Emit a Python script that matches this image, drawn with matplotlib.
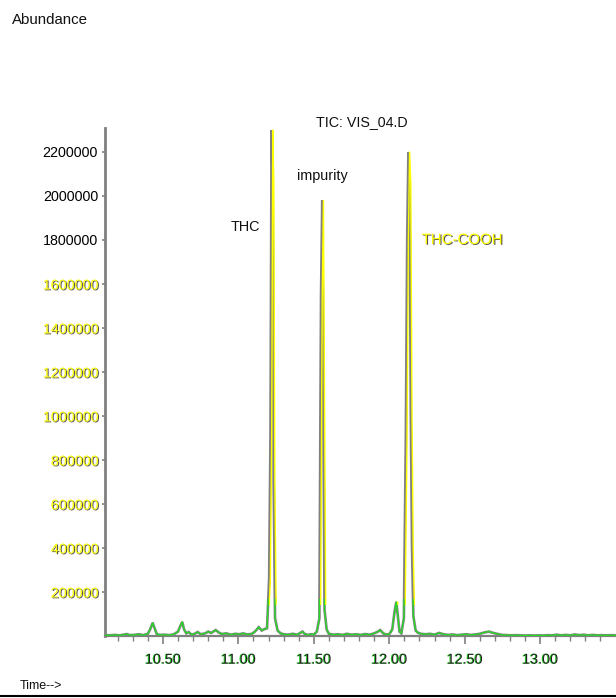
import matplotlib
matplotlib.use("Agg")
import matplotlib.pyplot as plt
import matplotlib.patheffects as pe
import matplotlib.transforms as mtransforms
from matplotlib.patches import Rectangle

plt.rcParams['font.family'] = ['Liberation Sans', 'DejaVu Sans']

# ---- data ----
time_min = [10.12, 10.15, 10.18, 10.21, 10.24, 10.26, 10.28, 10.31, 10.34, 10.37,
            10.40, 10.415, 10.432, 10.445, 10.46, 10.48, 10.51, 10.54, 10.57, 10.60,
            10.615, 10.628, 10.64, 10.655, 10.67, 10.69, 10.71, 10.73, 10.75, 10.78,
            10.80, 10.82, 10.85, 10.87, 10.89, 10.92, 10.95, 10.98, 11.01, 11.03,
            11.06, 11.09, 11.11, 11.135, 11.155, 11.175, 11.19, 11.204, 11.213, 11.220,
            11.227, 11.234, 11.243, 11.26, 11.28, 11.30, 11.33, 11.36, 11.39, 11.41,
            11.425, 11.44, 11.46, 11.48, 11.50, 11.52, 11.537, 11.548, 11.556, 11.563,
            11.571, 11.585, 11.60, 11.63, 11.66, 11.69, 11.72, 11.75, 11.78, 11.81,
            11.84, 11.87, 11.90, 11.925, 11.94, 11.96, 11.98, 12.00, 12.02, 12.035,
            12.047, 12.057, 12.068, 12.08, 12.097, 12.110, 12.119, 12.127, 12.135, 12.143,
            12.151, 12.160, 12.175, 12.19, 12.21, 12.24, 12.27, 12.30, 12.33, 12.36,
            12.39, 12.42, 12.45, 12.48, 12.51, 12.54, 12.57, 12.60, 12.63, 12.66,
            12.69, 12.72, 12.75, 12.78, 12.81, 12.84, 12.87, 12.90, 12.93, 12.96,
            12.99, 13.02, 13.05, 13.08, 13.11, 13.14, 13.17, 13.20, 13.23, 13.26,
            13.29, 13.32, 13.35, 13.38, 13.41, 13.44, 13.47, 13.50]
abundance = [4000, 3000, 5000, 3000, 6000, 9000, 4000, 5000, 8000, 4000,
             10000, 30000, 60000, 35000, 8000, 5000, 6000, 4000, 7000, 20000,
             45000, 64000, 30000, 12000, 18000, 6000, 10000, 18000, 8000, 12000,
             20000, 14000, 27000, 16000, 9000, 12000, 6000, 10000, 8000, 12000,
             7000, 10000, 20000, 40000, 25000, 32000, 35000, 260000, 920000, 2300000,
             2070000, 700000, 80000, 25000, 12000, 8000, 6000, 10000, 6000, 14000,
             20000, 9000, 5000, 8000, 6000, 20000, 80000, 1550000, 1980000, 1150000,
             120000, 30000, 10000, 6000, 8000, 5000, 10000, 6000, 8000, 5000,
             9000, 6000, 12000, 20000, 27000, 12000, 7000, 8000, 30000, 110000,
             155000, 90000, 20000, 12000, 80000, 900000, 1800000, 2200000, 2060000, 1000000,
             400000, 90000, 25000, 15000, 10000, 8000, 10000, 6000, 14000, 8000,
             5000, 7000, 4000, 6000, 8000, 5000, 7000, 10000, 16000, 20000,
             14000, 9000, 5000, 4000, 3000, 4000, 3000, 2000, 3000, 2000,
             3000, 2000, 4000, 3000, 6000, 3000, 5000, 3000, 7000, 4000,
             6000, 3000, 5000, 3000, 4000, 3000, 4000, 3000]

y_ticks = [200000, 400000, 600000, 800000, 1000000, 1200000, 1400000,
           1600000, 1800000, 2000000, 2200000]
x_major = [10.5, 11.0, 11.5, 12.0, 12.5, 13.0]
x_minor = [10.2, 10.3, 10.4, 10.6, 10.7, 10.8, 10.9, 11.1, 11.2, 11.3, 11.4,
           11.6, 11.7, 11.8, 11.9, 12.1, 12.2, 12.3, 12.4, 12.6, 12.7, 12.8,
           12.9, 13.1, 13.2, 13.3, 13.4]

peak_labels = ["THC", "impurity", "THC-COOH"]
peak_label_pos = [(10.95, 1860000), (11.39, 2090000), (12.215, 1800000)]
title_text = "TIC: VIS_04.D"

# ---- figure ----
W, H = 616, 698
fig = plt.figure(figsize=(W / 100, H / 100), dpi=100)
ax = fig.add_axes([105 / W, (H - 636) / H, (616 - 105) / W, (636 - 128) / H])
ax.set_xlim(10.116, 13.503)
ax.set_ylim(0, 2309000)

GRAY = '#808080'
YEL = '#ffff00'

# main trace (gray)
ax.plot(time_min, abundance, color=GRAY, lw=1.9, solid_joinstyle='miter', zorder=3)
# yellow overlay, nudged 1 px right, only in the tall part
off = mtransforms.offset_copy(ax.transData, fig=fig, x=1.2, y=0, units='dots')
yl, = ax.plot(time_min, abundance, color=YEL, lw=1.0, transform=off, zorder=4)
clip_y = Rectangle((10.0, 140000), 4.0, 3e6, transform=ax.transData)
yl.set_clip_path(clip_y)
# green overlay on the baseline
gl, = ax.plot(time_min, abundance, color='#22dd22', lw=0.9, zorder=5)
clip_g = Rectangle((10.0, 0), 4.0, 170000, transform=ax.transData)
gl.set_clip_path(clip_g)

# spines
for s in ['top', 'right']:
    ax.spines[s].set_visible(False)
ax.spines['left'].set_color(GRAY)
ax.spines['left'].set_linewidth(2.0)
ax.spines['bottom'].set_color(GRAY)
ax.spines['bottom'].set_linewidth(1.6)

# y ticks
ax.set_yticks(y_ticks)
ax.set_yticklabels([str(v) for v in y_ticks])
ax.tick_params(axis='y', direction='out', length=2, width=1.2, color=GRAY,
               pad=3, labelsize=10.3)
for lab, v in zip(ax.get_yticklabels(), y_ticks):
    if v >= 1800000:
        lab.set_color('black')
    else:
        lab.set_color(YEL)
        lab.set_path_effects([pe.SimplePatchShadow(offset=(0.8, -0.6),
                                                   shadow_rgbFace='#555555', alpha=1),
                              pe.Normal()])

# x ticks
ax.set_xticks(x_major)
ax.set_xticklabels([f"{v:.2f}" for v in x_major])
ax.set_xticks(x_minor, minor=True)
ax.tick_params(axis='x', which='major', direction='out', length=6, width=1.2,
               color=GRAY, pad=6, labelsize=10.3)
ax.tick_params(axis='x', which='minor', direction='out', length=3.5, width=1.0,
               color=GRAY)
for lab in ax.get_xticklabels():
    lab.set_color('#222222')
    lab.set_path_effects([pe.SimplePatchShadow(offset=(-0.7, 0),
                                               shadow_rgbFace='#22cc22', alpha=1),
                          pe.Normal()])
all_x = sorted(x_major + x_minor)
tick_objs = {round(t.get_loc(), 2): t for t in ax.xaxis.get_major_ticks() + ax.xaxis.get_minor_ticks()}
for i, v in enumerate(all_x):
    t = tick_objs.get(round(v, 2))
    if t is not None:
        t.tick1line.set_color('#3333ff' if (i // 2) % 2 == 0 else GRAY)

# labels on peaks
for txt, (px, py) in zip(peak_labels, peak_label_pos):
    if txt == "THC-COOH":
        ax.text(px, py, txt, fontsize=10.8, color=YEL, va='center', ha='left',
                path_effects=[pe.SimplePatchShadow(offset=(0.8, -0.6),
                                                   shadow_rgbFace='#555555', alpha=1),
                              pe.Normal()])
    else:
        ax.text(px, py, txt, fontsize=10.4, color='#111111', va='center', ha='left')

fig.text(316 / W, 1 - 122 / H, title_text, fontsize=10.3, color='#111111',
         va='center', ha='left')
fig.text(12 / W, 1 - 20 / H, "Abundance", fontsize=10.8, color='#111111',
         va='center', ha='left')
fig.text(20 / W, 1 - 686 / H, "Time-->", fontsize=9, color='#111111',
         va='center', ha='left')
fig.add_artist(plt.Line2D([0, 1], [1 - 696 / H, 1 - 696 / H], transform=fig.transFigure,
                          color='black', lw=1.5))

fig.savefig("out.png", dpi=100)
